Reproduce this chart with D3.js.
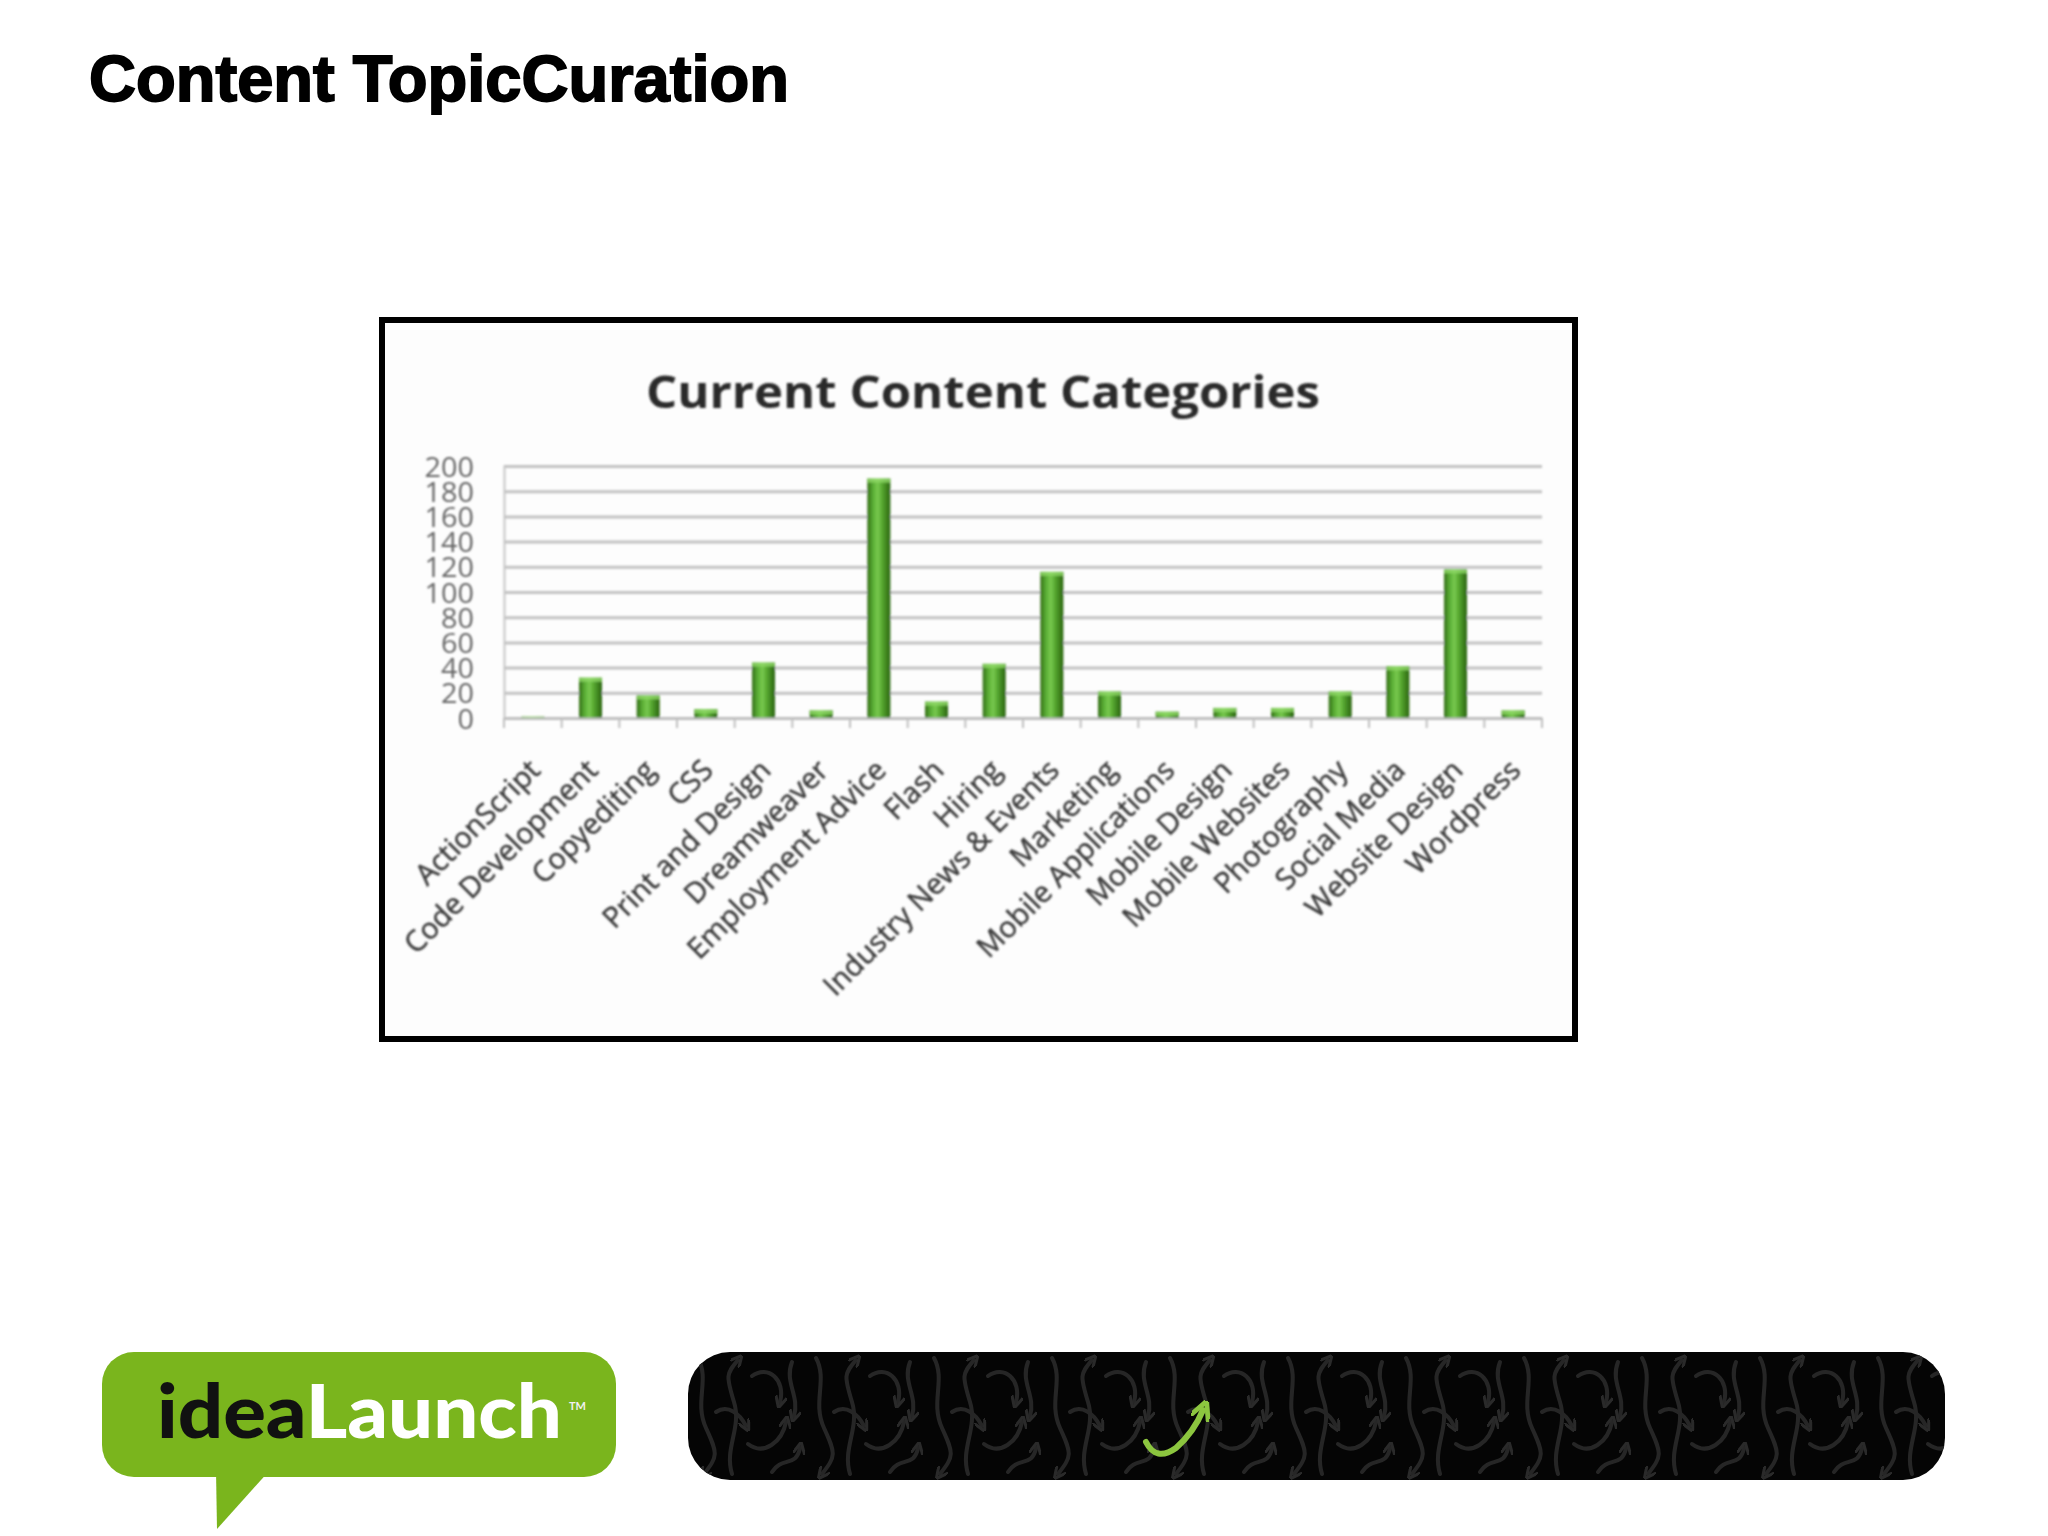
<!DOCTYPE html>
<html><head><meta charset="utf-8">
<script src="https://cdn.jsdelivr.net/npm/d3@7"></script>
<style>body{margin:0;background:#fff;} svg{display:block}</style>
</head><body>
<svg id="c" width="2048" height="1536"></svg>
<script>
const pageTitle = "Content TopicCuration";
const chartTitle = "Current Content Categories";
const categories = ["ActionScript","Code Development","Copyediting","CSS","Print and Design","Dreamweaver","Employment Advice","Flash","Hiring","Industry News & Events","Marketing","Mobile Applications","Mobile Design","Mobile Websites","Photography","Social Media","Website Design","Wordpress"];
const values = [1,32,18,7,44,6,190,13,43,116,21,5,8,8,21,41,118,6];
const yTicks = [0,20,40,60,80,100,120,140,160,180,200];
const yTickLabels = ["0","20","40","60","80","100","120","140","160","180","200"];

const svg = d3.select("#c");
const defs = svg.append("defs");

// soft blur to mimic the pasted screenshot
defs.append("filter").attr("id","soft").attr("x","-5%").attr("y","-5%").attr("width","110%").attr("height","110%")
  .append("feGaussianBlur").attr("stdDeviation",0.8);

const g1 = defs.append("linearGradient").attr("id","barGrad").attr("x1","0").attr("x2","1").attr("y1","0").attr("y2","0");
[["0%","#356f18"],["25%","#5aae35"],["45%","#78c94e"],["65%","#55a630"],["100%","#2a6410"]].forEach(s=>g1.append("stop").attr("offset",s[0]).attr("stop-color",s[1]));

// page title
svg.append("text").attr("x",89).attr("y",101)
  .attr("font-family","'Liberation Sans', Arial, sans-serif").attr("font-weight","bold")
  .attr("font-size",64).attr("fill","#000").attr("stroke","#000").attr("stroke-width",1.8)
  .attr("textLength",700).attr("lengthAdjust","spacingAndGlyphs").text(pageTitle);

// chart frame
svg.append("rect").attr("x",382).attr("y",320).attr("width",1193).attr("height",719)
  .attr("fill","#fdfdfd").attr("stroke","#000").attr("stroke-width",6);

const chart = svg.append("g").attr("filter","url(#soft)");

const plotL = 504, plotR = 1542, plotT = 466, plotB = 718;
const x = d3.scaleBand().domain(categories).range([plotL, plotR]).padding(0);
const y = d3.scaleLinear().domain([0,200]).range([plotB, plotT]);

// chart title
chart.append("text").attr("x",(plotL+plotR)/2 - 40).attr("y",408).attr("text-anchor","middle")
  .attr("font-family","'Open Sans', sans-serif").attr("font-weight",700).attr("font-size",45)
  .attr("fill","#2b2b2b").attr("textLength",674).attr("lengthAdjust","spacingAndGlyphs").text(chartTitle);

// gridlines + y labels
const yAxis = d3.axisLeft(y).tickValues(yTicks).tickFormat((d,i)=>yTickLabels[i])
  .tickSize(-(plotR-plotL)).tickPadding(30);
const yg = chart.append("g").attr("transform",`translate(${plotL},0)`).call(yAxis);
yg.select(".domain").attr("stroke","#c8c8c8").attr("stroke-width",2);
yg.selectAll(".tick line").attr("stroke","#c2c2c2").attr("stroke-width",3);
yg.selectAll(".tick text").attr("font-family","'Open Sans', sans-serif").attr("font-size",28)
  .attr("fill","#666").attr("dy","0.36em")
  .attr("textLength",d=>String(d).length*16.5).attr("lengthAdjust","spacingAndGlyphs");

// bars
const bw = x.bandwidth()*0.4;
chart.append("g").selectAll("rect").data(values).join("rect")
  .attr("x",(d,i)=>x(categories[i]) + (x.bandwidth()-bw)/2)
  .attr("y",d=>y(d)).attr("width",bw).attr("height",d=>plotB-y(d))
  .attr("fill","url(#barGrad)");
chart.append("g").selectAll("rect").data(values).join("rect")
  .attr("x",(d,i)=>x(categories[i]) + (x.bandwidth()-bw)/2)
  .attr("y",d=>y(d)).attr("width",bw).attr("height",d=>Math.min(4, plotB-y(d)))
  .attr("fill","#8fd866").attr("opacity",0.8);

// x axis with labels
const xAxis = d3.axisBottom(x).tickSize(0);
const xg = chart.append("g").attr("transform",`translate(0,${plotB})`).call(xAxis);
xg.select(".domain").attr("stroke","#bdbdbd").attr("stroke-width",2);
xg.selectAll(".tick text")
  .attr("font-family","'Open Sans', sans-serif").attr("font-size",29).attr("fill","#3c3c3c")
  .attr("stroke","#3c3c3c").attr("stroke-width",0.5)
  .attr("text-anchor","end").attr("x",0).attr("y",0).attr("dy",0)
  .attr("transform","translate(9,54) rotate(-45)");

// boundary tick marks
const bounds = categories.map(c=>x(c)).concat([x.range()[1]]);
chart.append("g").selectAll("line").data(bounds).join("line")
  .attr("x1",d=>d).attr("x2",d=>d).attr("y1",plotB).attr("y2",plotB+10)
  .attr("stroke","#c0c0c0").attr("stroke-width",2);

// ---- footer: ideaLaunch logo ----
const logo = svg.append("g");
logo.append("rect").attr("x",102).attr("y",1352).attr("width",514).attr("height",125).attr("rx",32).attr("fill","#7ab51d");
logo.append("path").attr("d","M216,1470 L270,1470 L217,1529 Z").attr("fill","#7ab51d");
const lt = logo.append("text").attr("x",157).attr("y",1438)
  .attr("font-family","Lato, sans-serif").attr("font-weight",900).attr("font-size",74)
  .attr("textLength",405).attr("lengthAdjust","spacingAndGlyphs");
lt.append("tspan").attr("fill","#111").text("idea");
lt.append("tspan").attr("fill","#fff").text("Launch");
logo.append("text").attr("x",569).attr("y",1410).attr("font-family","Lato, sans-serif")
  .attr("font-size",11).attr("font-weight",700).attr("fill","#f0f0f0").text("TM");

// ---- footer: dark banner with arrow pattern ----
const mk = defs.append("marker").attr("id","ah").attr("viewBox","0 0 10 10").attr("refX",5).attr("refY",5)
  .attr("markerWidth",3).attr("markerHeight",3).attr("orient","auto");
mk.append("path").attr("d","M0,0 L10,5 L0,10").attr("fill","none").attr("stroke","#2a2a2a").attr("stroke-width",2.5);
const mkG = defs.append("marker").attr("id","ahg").attr("viewBox","0 0 10 10").attr("refX",5).attr("refY",5)
  .attr("markerWidth",3.2).attr("markerHeight",3.2).attr("orient","auto");
mkG.append("path").attr("d","M0,0 L10,5 L0,10").attr("fill","none").attr("stroke","#8cc63f").attr("stroke-width",2.5);

const pat = defs.append("pattern").attr("id","arrows").attr("patternUnits","userSpaceOnUse")
  .attr("x",688).attr("y",1352).attr("width",118).attr("height",128);
const patPaths = [
  "M10,6 C22,28 6,50 18,76 S30,104 16,122",
  "M44,122 C36,96 54,76 46,50 S38,22 50,8",
  "M64,24 C80,12 98,28 92,50",
  "M60,92 C76,104 94,90 98,70",
  "M84,120 C94,104 108,116 112,96",
  "M104,10 C96,30 112,44 106,64",
  "M28,60 C40,52 52,62 58,74"
];
pat.selectAll("path").data(patPaths).join("path").attr("d",d=>d)
  .attr("fill","none").attr("stroke","#262626").attr("stroke-width",4).attr("stroke-linecap","round")
  .attr("marker-end","url(#ah)");

svg.append("rect").attr("x",688).attr("y",1352).attr("width",1257).attr("height",128).attr("rx",42).attr("fill","#050505");
svg.append("rect").attr("x",688).attr("y",1352).attr("width",1257).attr("height",128).attr("rx",42).attr("fill","url(#arrows)");
svg.append("path").attr("d","M1146,1442 Q1156,1462 1176,1448 Q1194,1432 1203,1410")
  .attr("fill","none").attr("stroke","#8cc63f").attr("stroke-width",6).attr("stroke-linecap","round")
  .attr("marker-end","url(#ahg)");
</script>
</body></html>
